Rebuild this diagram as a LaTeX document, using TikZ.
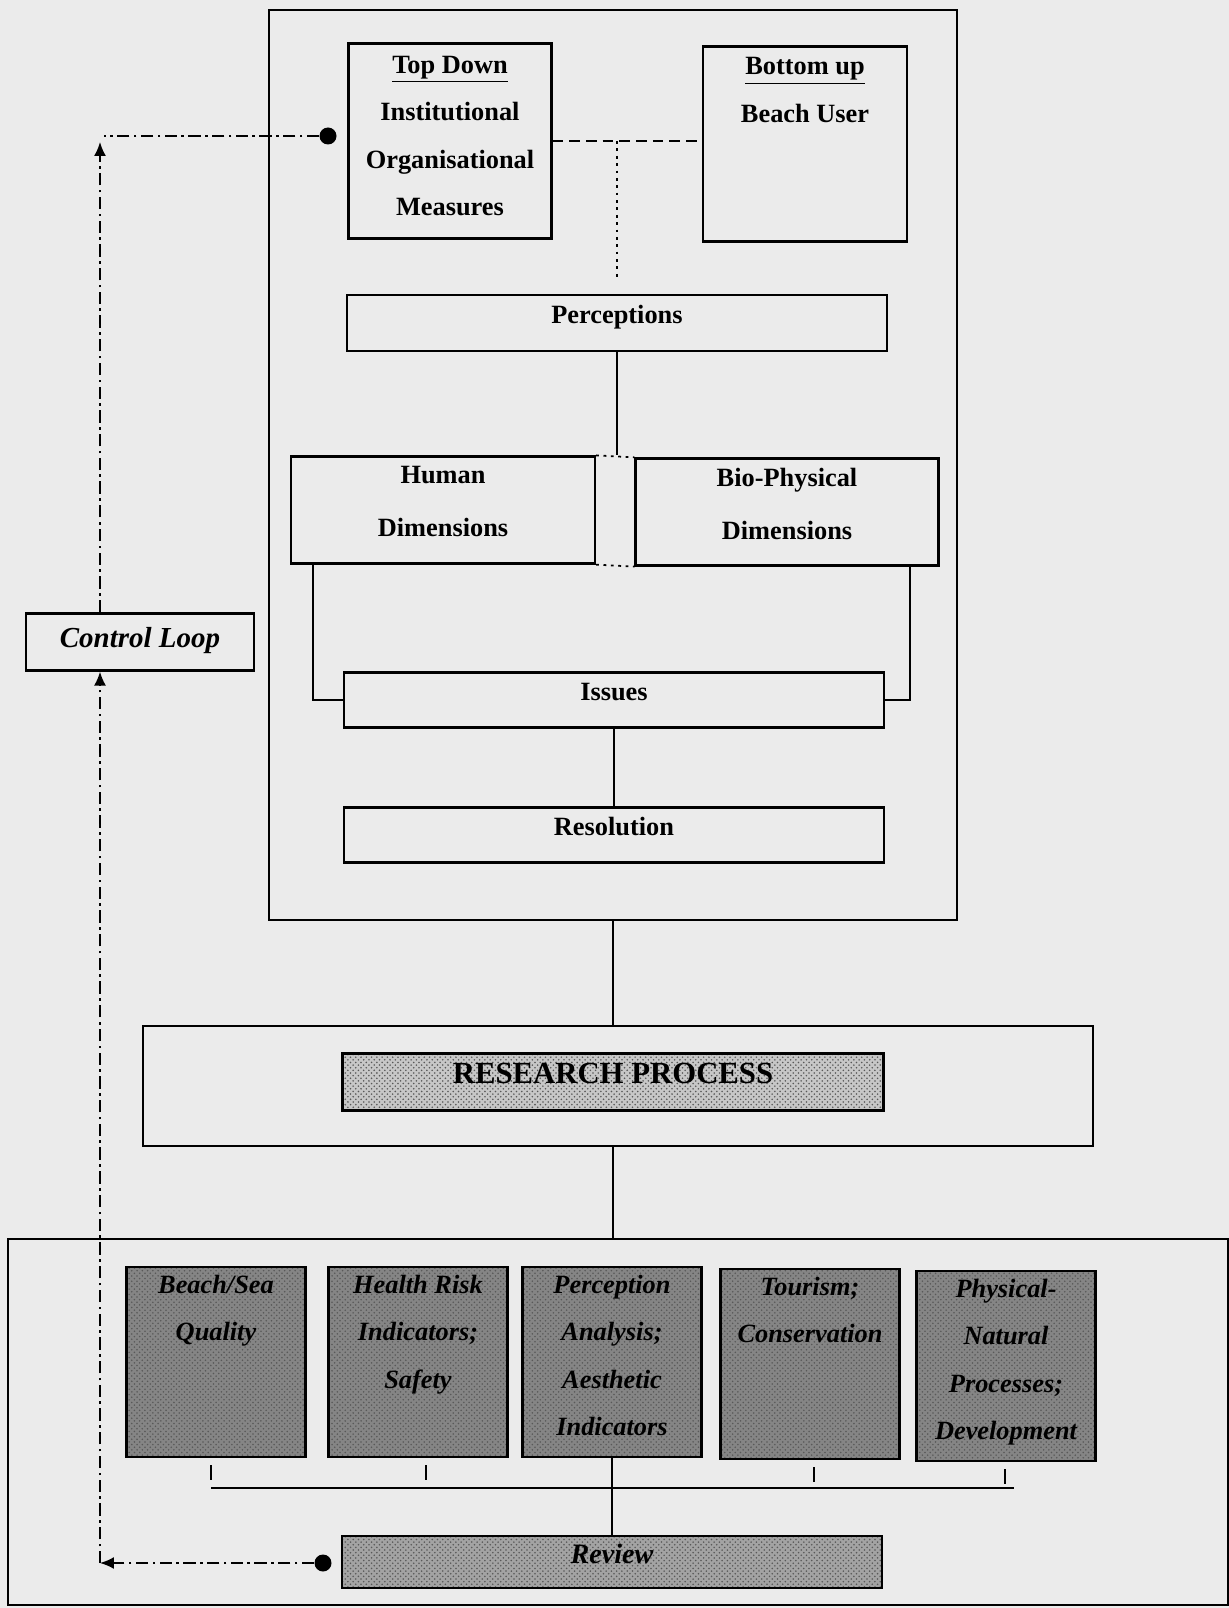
\documentclass[tikz,border=0pt]{standalone}
\usepackage{fontspec}
\setmainfont{Liberation Serif}
\usetikzlibrary{positioning,patterns,arrows.meta}
\tikzset{%
    frame/.style={%
        draw, line width=1.1pt, inner sep=0pt
    },
    box/.style={%
        draw, line width=1.3pt, align=center, text depth=0.34cm, font=\fontsize{15}{27}\selectfont\bfseries
    },
    boxtxt/.style={%
        align=center, inner sep=0pt, font=\fontsize{15}{27}\selectfont\bfseries
    },
    shaded/.style={%
        draw, line width=1.4pt, text depth=0.34cm, preaction={fill=#1}, pattern=crosshatch dots, pattern color=black!65
    },
    topic/.style={%
        shaded=black!48, minimum width=3.58cm, minimum height=3.8cm
    },
    topictxt/.style={%
        align=center, inner sep=0pt, font=\fontsize{15}{27}\selectfont\bfseries\itshape
    },
    link/.style={%
        line width=1pt
    },
    dashlink/.style={%
        line width=1pt, dash pattern=on 6pt off 3.5pt
    },
    dotlink/.style={%
        line width=1pt, dash pattern=on 1.6pt off 2.6pt
    },
    loopline/.style={%
        line width=1pt, dash pattern=on 7pt off 2.5pt on 1.5pt off 2.5pt
    },
    looptip/.style={%
        -{Latex[length=0.28cm,width=0.24cm]}
    },
    dot/.style={%
        circle, fill, inner sep=0pt, minimum size=0.34cm
    },
}

\begin{document}
\begin{tikzpicture}[x=0.02cm, y=-0.02cm]
  % paper
  \fill[black!8] (0,0) rectangle (1229,1608);

  % upper block
  \node[frame, minimum width=13.76cm, minimum height=18.22cm] (upper) at (613,465) {};
  \node[box, minimum width=4.06cm, minimum height=3.9cm] (topdown) at (450,141) {};
  \node[boxtxt, below=0.27cm of topdown.north] (topdowntxt) {\underline{Top Down}\\Institutional\\Organisational\\Measures};
  \node[box, minimum width=4.08cm, minimum height=3.9cm] (bottomup) at (805,144) {};
  \node[boxtxt, below=0.24cm of bottomup.north] (bottomuptxt) {\underline{Bottom up}\\Beach User};

  \node[box, minimum width=10.8cm, minimum height=1.12cm] (perc) at (617,323) {Perceptions};
  \node[box, minimum width=6.08cm, minimum height=2.14cm, font=\fontsize{15}{30}\selectfont\bfseries] (human) at (443,510) {Human\\Dimensions};
  \node[box, minimum width=6.06cm, minimum height=2.14cm, font=\fontsize{15}{30}\selectfont\bfseries] (bio) at (787,512) {Bio-Physical\\Dimensions};
  \node[box, minimum width=10.8cm, minimum height=1.1cm] (issues) at (614,700) {Issues};
  \node[box, minimum width=10.8cm, minimum height=1.1cm] (resol) at (614,835) {Resolution};

  % research process
  \node[frame, minimum width=19cm, minimum height=2.4cm] (research) at (618,1086) {};
  \node[shaded=black!22, minimum width=10.82cm, minimum height=1.14cm, font=\fontsize{17.5}{20}\selectfont\bfseries] (rp) at (613,1082) {RESEARCH PROCESS};

  % lower block
  \node[frame, minimum width=24.4cm, minimum height=7.32cm] (lower) at (618,1422) {};
  \node[topic] (b1) at (216,1362) {};
  \node[topic] (b2) at (418,1362) {};
  \node[topic] (b3) at (612,1362) {};
  \node[topic] (b4) at (810,1364) {};
  \node[topic] (b5) at (1006,1366) {};
  \node[topictxt, below=0.18cm of b1.north] {Beach/Sea\\Quality};
  \node[topictxt, below=0.18cm of b2.north] {Health Risk\\Indicators;\\Safety};
  \node[topictxt, below=0.18cm of b3.north] {Perception\\Analysis;\\Aesthetic\\Indicators};
  \node[topictxt, below=0.18cm of b4.north] {Tourism;\\Conservation};
  \node[topictxt, below=0.18cm of b5.north] {Physical-\\Natural\\Processes;\\Development};
  \node[shaded=black!36, minimum width=10.8cm, minimum height=1.04cm, font=\fontsize{16}{20}\selectfont\bfseries\itshape] (review) at (612,1562) {Review};

  \node[box, minimum width=4.56cm, minimum height=1.14cm, text depth=0.2cm, font=\fontsize{16.5}{20}\selectfont\bfseries\itshape] (control) at (140,642) {Control Loop};

  % connectors
  \draw[dashlink] (topdown.east) -- (topdown.east -| bottomup.west);
  \draw[dotlink, shorten >=0.26cm] (topdown.east -| perc.north) -- (perc.north);
  \draw[link] (perc.south) -- (perc.south |- human.north);
  \draw[dotlink] (human.north east) -- (bio.north west);
  \draw[dotlink] (human.south east) -- (bio.south west);
  \draw[link] ([xshift=0.46cm]human.south west) |- (issues.west);
  \draw[link] ([xshift=-0.6cm]bio.south east) |- (issues.east);
  \draw[link] (issues.south) -- (resol.north);
  \draw[link] (upper.south) -- (upper.south |- research.north);
  \draw[link] (upper.south |- research.south) -- (upper.south |- lower.north);
  \draw[link] (b3.south) -- (b3.south |- review.north);

  % ticks and bus under the topics
  \foreach \b/\dx in {b1/-0.1, b2/0.16, b4/0.08, b5/-0.02}
    \draw[link] ([xshift=\dx cm, yshift=-0.14cm]\b.south) -- ([xshift=\dx cm, yshift=-0.44cm]\b.south);
  \coordinate (busl) at (211,1488);
  \coordinate (busr) at (1014,1488);
  \draw[link] (busl) -- (busr);

  % control loop
  \node[dot] (tddot) at (328,136) {};
  \node[dot] (rvdot) at (323,1563) {};
  \coordinate (looptop) at (100,136);
  \coordinate (loopbot) at (100,1563);
  \draw[loopline] (tddot) -- ([xshift=0.08cm]looptop);
  \draw[loopline, looptip] (looptop |- control.north) -- ([yshift=-0.12cm]looptop);
  \draw[loopline, looptip] (rvdot) -- (loopbot);
  \draw[loopline, looptip] (loopbot) -- (loopbot |- control.south);
\end{tikzpicture}
\end{document}
